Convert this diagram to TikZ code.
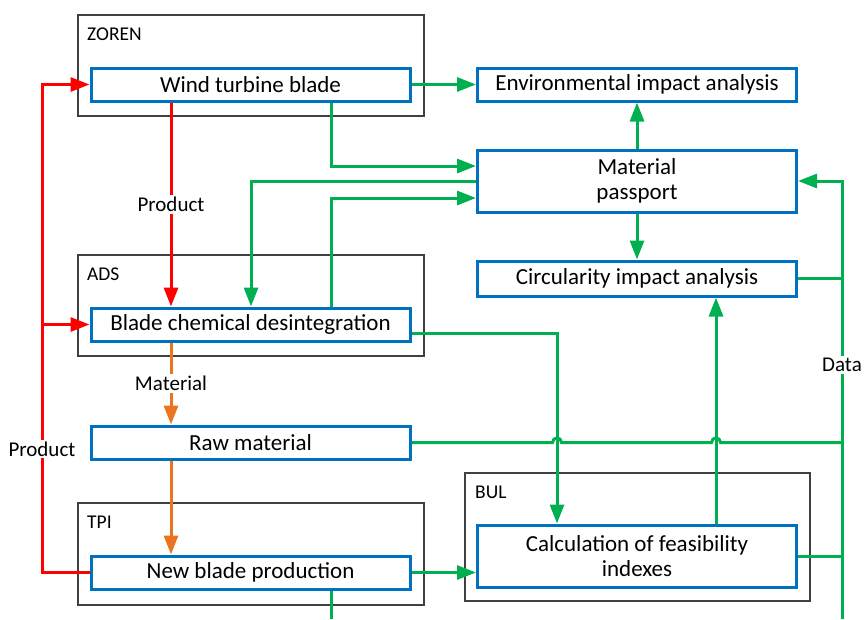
\documentclass[tikz,border=0pt]{standalone}
\usepackage{fontspec}
\setmainfont{Carlito}
\usetikzlibrary{arrows.meta,calc}
\definecolor{bblue}{RGB}{0,112,192}
\definecolor{ggreen}{RGB}{0,176,80}
\definecolor{rred}{RGB}{255,0,0}
\definecolor{oorange}{RGB}{235,117,30}
\begin{document}
\begin{tikzpicture}[x=1pt,y=-1pt,
  proc/.style={draw=bblue,line width=3pt,fill=white,minimum width=319pt,minimum height=33pt,inner sep=0pt,align=center,font=\fontsize{23}{25.5}\selectfont,text=black},
  grp/.style={draw=black!75,line width=1.2pt,minimum width=346pt,inner sep=0pt},
  glabel/.style={font=\fontsize{19.5}{22}\selectfont,anchor=base west,inner sep=0pt},
  lbl/.style={font=\fontsize{21}{24}\selectfont,fill=white,inner sep=2pt},
  gline/.style={draw=ggreen,line width=3pt},
  garrow/.style={gline,-{Triangle[length=19pt,width=14pt]}},
  rarrow/.style={draw=rred,line width=3pt,-{Triangle[length=19pt,width=14pt]}},
  rline/.style={draw=rred,line width=3pt},
  oarrow/.style={draw=oorange,line width=3pt,-{Triangle[length=19pt,width=14pt]}}
]
\useasboundingbox (0,0) rectangle (864,619);
% groups
\node[grp,minimum height=101pt] (zoren) at (251,65.5) {};
\node[grp,minimum height=101pt] (ads) at (251,305.5) {};
\node[grp,minimum height=102pt] (tpi) at (251,554) {};
\node[grp,minimum width=345pt,minimum height=128pt] (bul) at (637.5,537) {};
\node[glabel] (lzoren) at (87,40) {ZOREN};
\node[glabel] (lads) at (87,280) {ADS};
\node[glabel] (ltpi) at (87,528.5) {TPI};
\node[glabel] (lbul) at (475,498) {BUL};
% process boxes
\node[proc] (wtb) at (250.5,84.5) {Wind turbine blade};
\node[proc] (bcd) at (250.5,324.5) {Blade chemical desintegration};
\node[proc] (raw) at (250.5,442.5) {Raw material};
\node[proc] (nbp) at (250.5,572.5) {New blade production};
\node[proc] (env) at (637,84.5) {Environmental impact analysis};
\node[proc,minimum height=62pt] (mp) at (637,181) {Material\\passport};
\node[proc,minimum height=35pt] (cia) at (637,278.5) {Circularity impact analysis};
\node[proc,minimum height=62pt] (cfi) at (637,556) {Calculation of feasibility\\indexes};
% helper coordinates
\coordinate (xA) at (331,0);
\coordinate (xB) at (251,0);
\coordinate (xC) at (557,0);
\coordinate (xD) at (716,0);
\coordinate (xE) at (842,0);
\coordinate (xF) at (42,0);
\coordinate (xG) at (171,0);
\coordinate (y166) at (0,166);
\coordinate (y181) at (0,181);
\coordinate (y198) at (0,198);
\coordinate (y333) at (0,333);
\coordinate (ybot) at (0,619);
% green connectors
\draw[garrow] (wtb.east) -- (env.west);
\draw[garrow] (xA |- wtb.south) -- (xA |- y166) -- (mp.west |- y166);
\draw[garrow] (mp.west |- y181) -- (xB |- y181) -- (xB |- bcd.north);
\draw[garrow] (xA |- bcd.north) -- (xA |- y198) -- (mp.west |- y198);
\draw[garrow] (mp.north) -- (env.south);
\draw[garrow] (mp.south) -- (cia.north);
\draw[gline] (cia.east) -- (xE |- cia.east);
\draw[garrow] (bcd.east |- y333) -- (xC |- y333) -- (xC |- cfi.north);
\draw[garrow] (xD |- cfi.north) -- (xD |- cia.south);
\draw[gline] (raw.east) -- ($(xC |- raw.east)+(-4.5,0)$)
  .. controls +(0,-6) and +(0,-6) .. ($(xC |- raw.east)+(4.5,0)$)
  -- ($(xD |- raw.east)+(-4.5,0)$)
  .. controls +(0,-6) and +(0,-6) .. ($(xD |- raw.east)+(4.5,0)$)
  -- (xE |- raw.east);
\draw[gline] (cfi.east) -- (xE |- cfi.east);
\draw[garrow] (nbp.east) -- (cfi.west |- nbp.east);
\draw[gline] (xA |- nbp.south) -- (xA |- ybot);
\draw[garrow] (xE |- ybot) -- (xE |- mp.east) -- (mp.east);
\node[lbl] (data) at (842,365) {Data};
% red connectors
\draw[rarrow] (nbp.west) -- (xF |- nbp.west) -- (xF |- wtb.west) -- (wtb.west);
\draw[rarrow] (xF |- bcd.west) -- (bcd.west);
\node[lbl] (prod2) at (42,449) {Product};
\draw[rarrow] (xG |- wtb.south) -- (xG |- bcd.north) node[lbl,midway] (prod1) {Product};
% orange connectors
\draw[oarrow] (xG |- bcd.south) -- (xG |- raw.north) node[lbl,midway] (mat) {Material};
\draw[oarrow] (xG |- raw.south) -- (xG |- nbp.north);
\end{tikzpicture}
\end{document}
